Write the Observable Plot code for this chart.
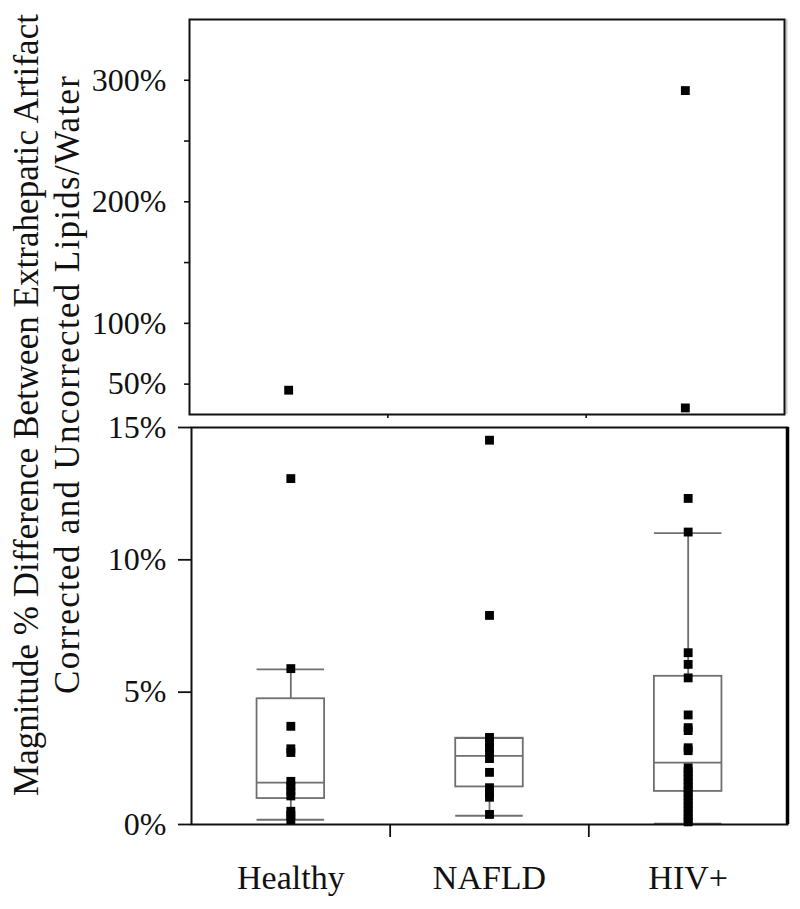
<!DOCTYPE html>
<html>
<head>
<meta charset="utf-8">
<script src="https://cdn.jsdelivr.net/npm/d3@7"></script>
<script src="https://cdn.jsdelivr.net/npm/@observablehq/plot@0.6"></script>
<style>
  body { margin: 0; background: #fff; }
  #chart { position: relative; width: 800px; height: 909px; background: #fff; }
  #chart svg { display: block; }
  #ylabel { position: absolute; left: 0; top: 0; pointer-events: none; }
</style>
</head>
<body>
<div id="chart"></div>
<script>
// ---- data (percent) ----
const categories = ["Healthy", "NAFLD", "HIV+"];
const healthyValues = [45, 13.07, 5.89, 3.71, 2.86, 2.72, 1.63, 1.45, 1.27, 1.08, 0.5, 0.35, 0.18];
const nafldValues = [14.52, 7.9, 3.29, 3.1, 2.9, 2.7, 2.49, 1.97, 1.39, 1.2, 1.03, 0.38];
const hivValues = [291.5, 30.4, 12.32, 11.05, 6.49, 6.05, 5.54, 4.14, 3.66, 3.55, 2.9, 2.79,
                   2.14, 2.0, 1.85, 1.7, 1.55, 1.4, 1.25, 1.1, 0.95, 0.8, 0.65, 0.5, 0.35, 0.2, 0.1];
const boxQ1 = [0.98, 1.42, 1.25];
const boxMedian = [1.58, 2.59, 2.34];
const boxQ3 = [4.75, 3.26, 5.6];
const whiskerLow = [0.18, 0.33, 0.03];
const whiskerHigh = [5.86, 3.26, 11.01];
const topTicks = [50, 100, 150, 200, 250, 300];
const topTickLabels = ["50%", "100%", "", "200%", "", "300%"];
const bottomTicks = [0, 5, 10, 15];
const bottomTickLabels = ["0%", "5%", "10%", "15%"];
const yLabelLines = ["Magnitude % Difference Between Extrahepatic Artifact",
                     "Corrected and Uncorrected Lipids/Water"];

// ---- derived tables ----
const valuesByCat = [healthyValues, nafldValues, hivValues];
const points = valuesByCat.flatMap((vals, i) => vals.map(v => ({cat: categories[i], i, v})));
const BREAK = 15;
const topPoints = points.filter(d => d.v > BREAK);
const bottomPoints = points.filter(d => d.v <= BREAK);
const boxes = categories.map((c, i) => ({
  cat: c, i, q1: boxQ1[i], med: boxMedian[i], q3: boxQ3[i], lo: whiskerLow[i], hi: whiskerHigh[i]
}));

const HALF = 0.17;           // half box width in band units
const xc = d => d.i + 0.5;   // band centre
const font = "'Liberation Serif', 'Times New Roman', serif";
const boxColor = "#6f6f6f";

const topPlot = Plot.plot({
  width: 800, height: 421,
  marginLeft: 189, marginRight: 16, marginTop: 19, marginBottom: 7,
  x: {domain: [0, 3], axis: null},
  y: {domain: [25, 350], axis: null},
  style: {fontFamily: font, fontSize: "32px", color: "#111", background: "transparent", overflow: "visible"},
  marks: [
    Plot.axisY({ticks: topTicks, tickSize: 5, tickPadding: 18, strokeWidth: 1.6, label: null,
      tickFormat: d => topTickLabels[topTicks.indexOf(d)], fontSize: 32}),
    Plot.axisX({ticks: [1, 2], tickSize: 4, tickFormat: () => "", strokeWidth: 1.6, label: null}),
    Plot.ruleX([3], {stroke: "#c8c8c8", strokeWidth: 2, dx: 2}),
    Plot.frame({stroke: "#111", strokeWidth: 2}),
    Plot.dot(topPoints, {x: xc, y: "v", symbol: "square", r: 5, fill: "#000", stroke: null})
  ]
});

const bottomPlot = Plot.plot({
  width: 800, height: 488,
  marginLeft: 191, marginRight: 13, marginTop: 6, marginBottom: 85,
  x: {domain: [0, 3], axis: null},
  y: {domain: [0, 15], axis: null},
  style: {fontFamily: font, fontSize: "32px", color: "#111", background: "transparent", overflow: "visible"},
  marks: [
    Plot.axisY({ticks: bottomTicks, tickSize: 13, tickPadding: 12, strokeWidth: 1.8, label: null,
      tickFormat: d => bottomTickLabels[bottomTicks.indexOf(d)], fontSize: 32}),
    Plot.axisX({ticks: [1, 2], tickSize: 13, tickFormat: () => "", strokeWidth: 1.8, label: null}),
    Plot.axisX({ticks: [0.5, 1.5, 2.5], tickSize: 0, tickPadding: 40, label: null,
      tickFormat: d => categories[Math.floor(d)], fontSize: 34}),
    // whiskers
    Plot.ruleX(boxes, {x: xc, y1: "q3", y2: "hi", stroke: boxColor, strokeWidth: 1.8}),
    Plot.ruleX(boxes, {x: xc, y1: "lo", y2: "q1", stroke: boxColor, strokeWidth: 1.8}),
    Plot.ruleY(boxes, {y: "hi", x1: d => xc(d) - HALF, x2: d => xc(d) + HALF, stroke: boxColor, strokeWidth: 1.8}),
    Plot.ruleY(boxes, {y: "lo", x1: d => xc(d) - HALF, x2: d => xc(d) + HALF, stroke: boxColor, strokeWidth: 1.8}),
    // box
    Plot.rect(boxes, {x1: d => xc(d) - HALF, x2: d => xc(d) + HALF, y1: "q1", y2: "q3",
      fill: "none", stroke: boxColor, strokeWidth: 1.8}),
    Plot.ruleY(boxes, {y: "med", x1: d => xc(d) - HALF, x2: d => xc(d) + HALF, stroke: boxColor, strokeWidth: 1.8}),
    Plot.frame({stroke: "#111", strokeWidth: 2}),
    Plot.ruleX([3], {stroke: "#000", strokeWidth: 3.5}),
    Plot.dot(bottomPoints, {x: xc, y: "v", symbol: "square", r: 5, fill: "#000", stroke: null})
  ]
});

const chart = document.getElementById("chart");
chart.appendChild(topPlot);
chart.appendChild(bottomPlot);

// shared y-axis title spanning both panels
const svg = d3.create("svg").attr("id", "ylabel").attr("width", 800).attr("height", 909);
const lineX = [38, 79];
const lineY = [405, 385];
const lineLen = [782, 618];
yLabelLines.forEach((t, k) => {
  svg.append("text")
    .attr("transform", `translate(${lineX[k]},${lineY[k]}) rotate(-90)`)
    .attr("text-anchor", "middle")
    .attr("font-family", font)
    .attr("font-size", 35)
    .attr("textLength", lineLen[k])
    .attr("lengthAdjust", "spacing")
    .attr("fill", "#111")
    .text(t);
});
chart.appendChild(svg.node());
</script>
</body>
</html>
